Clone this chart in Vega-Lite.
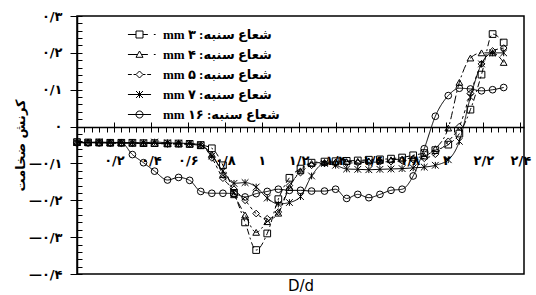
{
"$schema":"https://vega.github.io/schema/vega-lite/v6.json",
"width":447,"height":258,
"autosize":{"type":"none"},
"padding":{"left":77,"top":16,"right":12,"bottom":21},
"background":"white",
"data":{"values":[
{"s":"3","x":0,"y":-0.042},{"s":"3","x":0.06,"y":-0.043},{"s":"3","x":0.12,"y":-0.043},{"s":"3","x":0.18,"y":-0.044},{"s":"3","x":0.24,"y":-0.044},{"s":"3","x":0.30,"y":-0.044},{"s":"3","x":0.36,"y":-0.045},{"s":"3","x":0.42,"y":-0.045},{"s":"3","x":0.49,"y":-0.046},{"s":"3","x":0.55,"y":-0.046},{"s":"3","x":0.61,"y":-0.047},{"s":"3","x":0.67,"y":-0.05},{"s":"3","x":0.73,"y":-0.059},{"s":"3","x":0.79,"y":-0.105},{"s":"3","x":0.85,"y":-0.18},{"s":"3","x":0.91,"y":-0.26},{"s":"3","x":0.97,"y":-0.335},{"s":"3","x":1.03,"y":-0.29},{"s":"3","x":1.09,"y":-0.197},{"s":"3","x":1.15,"y":-0.139},{"s":"3","x":1.21,"y":-0.114},{"s":"3","x":1.27,"y":-0.098},{"s":"3","x":1.34,"y":-0.095},{"s":"3","x":1.40,"y":-0.094},{"s":"3","x":1.46,"y":-0.093},{"s":"3","x":1.52,"y":-0.092},{"s":"3","x":1.58,"y":-0.09},{"s":"3","x":1.64,"y":-0.089},{"s":"3","x":1.70,"y":-0.087},{"s":"3","x":1.76,"y":-0.084},{"s":"3","x":1.82,"y":-0.078},{"s":"3","x":1.88,"y":-0.072},{"s":"3","x":1.94,"y":-0.064},{"s":"3","x":2.01,"y":-0.049},{"s":"3","x":2.07,"y":-0.019},{"s":"3","x":2.13,"y":0.046},{"s":"3","x":2.19,"y":0.141},{"s":"3","x":2.25,"y":0.251},{"s":"3","x":2.31,"y":0.228},
{"s":"4","x":0,"y":-0.043},{"s":"4","x":0.06,"y":-0.043},{"s":"4","x":0.12,"y":-0.044},{"s":"4","x":0.18,"y":-0.044},{"s":"4","x":0.24,"y":-0.044},{"s":"4","x":0.30,"y":-0.045},{"s":"4","x":0.36,"y":-0.045},{"s":"4","x":0.42,"y":-0.046},{"s":"4","x":0.49,"y":-0.046},{"s":"4","x":0.55,"y":-0.047},{"s":"4","x":0.61,"y":-0.048},{"s":"4","x":0.67,"y":-0.052},{"s":"4","x":0.73,"y":-0.075},{"s":"4","x":0.79,"y":-0.13},{"s":"4","x":0.85,"y":-0.185},{"s":"4","x":0.91,"y":-0.24},{"s":"4","x":0.97,"y":-0.287},{"s":"4","x":1.03,"y":-0.258},{"s":"4","x":1.09,"y":-0.235},{"s":"4","x":1.15,"y":-0.165},{"s":"4","x":1.21,"y":-0.12},{"s":"4","x":1.27,"y":-0.1},{"s":"4","x":1.34,"y":-0.097},{"s":"4","x":1.40,"y":-0.096},{"s":"4","x":1.46,"y":-0.095},{"s":"4","x":1.52,"y":-0.094},{"s":"4","x":1.58,"y":-0.093},{"s":"4","x":1.64,"y":-0.092},{"s":"4","x":1.70,"y":-0.09},{"s":"4","x":1.76,"y":-0.088},{"s":"4","x":1.82,"y":-0.085},{"s":"4","x":1.88,"y":-0.08},{"s":"4","x":1.94,"y":-0.06},{"s":"4","x":2.01,"y":-0.004},{"s":"4","x":2.07,"y":0.12},{"s":"4","x":2.13,"y":0.186},{"s":"4","x":2.19,"y":0.2},{"s":"4","x":2.25,"y":0.2},{"s":"4","x":2.31,"y":0.174},
{"s":"5","x":0,"y":-0.044},{"s":"5","x":0.06,"y":-0.044},{"s":"5","x":0.12,"y":-0.044},{"s":"5","x":0.18,"y":-0.045},{"s":"5","x":0.24,"y":-0.045},{"s":"5","x":0.30,"y":-0.045},{"s":"5","x":0.36,"y":-0.046},{"s":"5","x":0.42,"y":-0.046},{"s":"5","x":0.49,"y":-0.047},{"s":"5","x":0.55,"y":-0.047},{"s":"5","x":0.61,"y":-0.048},{"s":"5","x":0.67,"y":-0.05},{"s":"5","x":0.73,"y":-0.085},{"s":"5","x":0.79,"y":-0.14},{"s":"5","x":0.85,"y":-0.17},{"s":"5","x":0.91,"y":-0.2},{"s":"5","x":0.97,"y":-0.236},{"s":"5","x":1.03,"y":-0.25},{"s":"5","x":1.09,"y":-0.232},{"s":"5","x":1.15,"y":-0.16},{"s":"5","x":1.21,"y":-0.125},{"s":"5","x":1.27,"y":-0.105},{"s":"5","x":1.34,"y":-0.1},{"s":"5","x":1.40,"y":-0.099},{"s":"5","x":1.46,"y":-0.099},{"s":"5","x":1.52,"y":-0.098},{"s":"5","x":1.58,"y":-0.097},{"s":"5","x":1.64,"y":-0.096},{"s":"5","x":1.70,"y":-0.095},{"s":"5","x":1.76,"y":-0.093},{"s":"5","x":1.82,"y":-0.09},{"s":"5","x":1.88,"y":-0.086},{"s":"5","x":1.94,"y":-0.075},{"s":"5","x":2.01,"y":-0.04},{"s":"5","x":2.07,"y":0.0},{"s":"5","x":2.13,"y":0.09},{"s":"5","x":2.19,"y":0.17},{"s":"5","x":2.25,"y":0.205},{"s":"5","x":2.31,"y":0.213},
{"s":"7","x":0,"y":-0.043},{"s":"7","x":0.06,"y":-0.043},{"s":"7","x":0.12,"y":-0.042},{"s":"7","x":0.18,"y":-0.043},{"s":"7","x":0.24,"y":-0.043},{"s":"7","x":0.30,"y":-0.044},{"s":"7","x":0.36,"y":-0.044},{"s":"7","x":0.42,"y":-0.042},{"s":"7","x":0.49,"y":-0.044},{"s":"7","x":0.55,"y":-0.045},{"s":"7","x":0.61,"y":-0.046},{"s":"7","x":0.67,"y":-0.05},{"s":"7","x":0.73,"y":-0.08},{"s":"7","x":0.79,"y":-0.12},{"s":"7","x":0.85,"y":-0.154},{"s":"7","x":0.91,"y":-0.152},{"s":"7","x":0.97,"y":-0.164},{"s":"7","x":1.03,"y":-0.194},{"s":"7","x":1.09,"y":-0.21},{"s":"7","x":1.15,"y":-0.206},{"s":"7","x":1.21,"y":-0.19},{"s":"7","x":1.27,"y":-0.134},{"s":"7","x":1.34,"y":-0.1},{"s":"7","x":1.40,"y":-0.105},{"s":"7","x":1.46,"y":-0.115},{"s":"7","x":1.52,"y":-0.116},{"s":"7","x":1.58,"y":-0.117},{"s":"7","x":1.64,"y":-0.116},{"s":"7","x":1.70,"y":-0.115},{"s":"7","x":1.76,"y":-0.114},{"s":"7","x":1.82,"y":-0.112},{"s":"7","x":1.88,"y":-0.11},{"s":"7","x":1.94,"y":-0.105},{"s":"7","x":2.01,"y":-0.09},{"s":"7","x":2.07,"y":-0.04},{"s":"7","x":2.13,"y":0.08},{"s":"7","x":2.19,"y":0.17},{"s":"7","x":2.25,"y":0.2},{"s":"7","x":2.31,"y":0.2},
{"s":"16","x":0,"y":-0.044},{"s":"16","x":0.06,"y":-0.044},{"s":"16","x":0.12,"y":-0.044},{"s":"16","x":0.18,"y":-0.044},{"s":"16","x":0.24,"y":-0.044},{"s":"16","x":0.30,"y":-0.076},{"s":"16","x":0.36,"y":-0.098},{"s":"16","x":0.42,"y":-0.121},{"s":"16","x":0.49,"y":-0.145},{"s":"16","x":0.55,"y":-0.138},{"s":"16","x":0.61,"y":-0.146},{"s":"16","x":0.67,"y":-0.176},{"s":"16","x":0.73,"y":-0.181},{"s":"16","x":0.79,"y":-0.181},{"s":"16","x":0.85,"y":-0.182},{"s":"16","x":0.91,"y":-0.191},{"s":"16","x":0.97,"y":-0.182},{"s":"16","x":1.03,"y":-0.176},{"s":"16","x":1.09,"y":-0.17},{"s":"16","x":1.15,"y":-0.173},{"s":"16","x":1.21,"y":-0.173},{"s":"16","x":1.27,"y":-0.175},{"s":"16","x":1.34,"y":-0.175},{"s":"16","x":1.40,"y":-0.17},{"s":"16","x":1.46,"y":-0.195},{"s":"16","x":1.52,"y":-0.184},{"s":"16","x":1.58,"y":-0.193},{"s":"16","x":1.64,"y":-0.184},{"s":"16","x":1.70,"y":-0.173},{"s":"16","x":1.76,"y":-0.17},{"s":"16","x":1.82,"y":-0.134},{"s":"16","x":1.88,"y":-0.06},{"s":"16","x":1.94,"y":0.028},{"s":"16","x":2.01,"y":0.084},{"s":"16","x":2.07,"y":0.104},{"s":"16","x":2.13,"y":0.102},{"s":"16","x":2.19,"y":0.097},{"s":"16","x":2.25,"y":0.1},{"s":"16","x":2.31,"y":0.106}
]},
"resolve":{"scale":{"shape":"independent"},"axis":{"x":"independent","y":"independent"}},
"layer":[
{
"mark":{"type":"line","interpolate":"monotone","strokeWidth":1,"color":"black"},
"encoding":{
"x":{"field":"x","type":"quantitative","scale":{"domain":[0,2.42],"nice":false,"zero":false},
"axis":{"orient":"bottom","offset":-147,"values":[0.04,0.08,0.12,0.16,0.2,0.24,0.28,0.32,0.36,0.4,0.44,0.48,0.52,0.56,0.6,0.64,0.68,0.72,0.76,0.8,0.84,0.88,0.92,0.96,1,1.04,1.08,1.12,1.16,1.2,1.24,1.28,1.32,1.36,1.4,1.44,1.48,1.52,1.56,1.6,1.64,1.68,1.72,1.76,1.8,1.84,1.88,1.92,1.96,2,2.04,2.08,2.12,2.16,2.2,2.24,2.28,2.32,2.36,2.4],
"tickSize":5,"labelPadding":22,"labelFontSize":13,"labelOverlap":false,"labelFlush":false,"labelBound":false,"title":null,
"labelExpr":"abs(datum.value*5 - round(datum.value*5)) > 0.01 ? '' : replace(replace(replace(replace(replace(replace(replace(replace(replace(toString(round(datum.value*100)/100),'.','/'),regexp('0','g'),'۰'),regexp('1','g'),'۱'),regexp('2','g'),'۲'),regexp('3','g'),'۳'),regexp('4','g'),'۴'),regexp('6','g'),'۶'),regexp('8','g'),'۸'),'-','−')"}},
"y":{"field":"y","type":"quantitative","scale":{"domain":[-0.4,0.3],"nice":false,"zero":false},
"axis":{"orient":"left","values":[-0.4,-0.3,-0.2,-0.1,0,0.1,0.2,0.3],"tickSize":7,"labelPadding":8,"labelFontSize":13,"labelOverlap":false,
"title":"کرنش ضخامت","titleFont":"DejaVu Sans","titleFontSize":13,"titleFontWeight":"bold","titlePadding":1,
"labelExpr":"replace(replace(replace(replace(replace(replace(replace(replace(replace(toString(round(datum.value*100)/100),'.','/'),regexp('0','g'),'۰'),regexp('1','g'),'۱'),regexp('2','g'),'۲'),regexp('3','g'),'۳'),regexp('4','g'),'۴'),regexp('6','g'),'۶'),regexp('8','g'),'۸'),'-','—')"}},
"strokeDash":{"field":"s","type":"nominal","scale":{"domain":["3","4","5","7","16"],"range":[[6,3,2,3],[8,3,2,3],[3,3],[1,0],[1,0]]},"legend":null}
}
},
{
"mark":{"type":"point","filled":false,"strokeWidth":1,"color":"black","size":45,"opacity":1},
"encoding":{
"x":{"field":"x","type":"quantitative","axis":{"orient":"bottom","domain":false,"ticks":false,"labels":false,"title":"D/d","titleFont":"DejaVu Sans","titleFontSize":15,"titleFontWeight":"normal","titlePadding":4}},
"y":{"field":"y","type":"quantitative","axis":{"orient":"left","values":[-0.4,-0.38,-0.36,-0.34,-0.32,-0.3,-0.28,-0.26,-0.24,-0.22,-0.2,-0.18,-0.16,-0.14,-0.12,-0.1,-0.08,-0.06,-0.04,-0.02,0,0.02,0.04,0.06,0.08,0.1,0.12,0.14,0.16,0.18,0.2,0.22,0.24,0.26,0.28,0.3],"tickSize":-5,"labels":false,"domain":false,"title":null}},
"shape":{"field":"s","type":"nominal","scale":{"domain":["3","4","5","7","16"],"range":["square","triangle-up","diamond","M-1,-1L1,1M-1,1L1,-1M0,-1V1","circle"]},"legend":null}
}
},
{
"transform":[{"filter":"false"}],
"mark":{"type":"point","filled":false,"strokeWidth":1,"color":"black","size":49,"opacity":1},
"encoding":{
"x":{"field":"x","type":"quantitative","axis":{"orient":"bottom","offset":-147,"values":[0.2,0.4,0.6,0.8,1,1.2,1.4,1.6,1.8,2,2.2,2.4],"tickSize":-5,"labels":false,"domain":false,"title":null}},
"y":{"field":"y","type":"quantitative","axis":null},
"shape":{"field":"s","type":"nominal","scale":{"domain":["3","4","5","7","16"],"range":["M-3.3,0H-1M-1,-1H1V1H-1ZM1,0H2.4M4.1,0H4.6","M-3.3,0H-0.6M0,-1L1,0.8H-1ZM0.6,0H2.4M4.1,0H4.6","M-3.3,0H-2.2M-1.7,0H-1M0,-1L1,0L0,1L-1,0ZM1,0H1.7M2.2,0H3.3","M-3.3,0H3.3M-1,-1L1,1M-1,1L1,-1M0,-1V1","M-3.3,0H3.3M1,0A1,1,0,1,1,-1,0A1,1,0,1,1,1,0Z"]},
"legend":{"orient":"none","legendX":56,"legendY":12,"title":null,"padding":0,"symbolSize":49,"symbolStrokeWidth":1,"symbolStrokeColor":"black","symbolFillColor":"transparent","labelFont":"Liberation Serif, DejaVu Sans","labelFontSize":13,"labelFontWeight":"bold","labelColor":"black","labelOffset":17,"rowPadding":6,
"labelExpr":"'mm ' + (datum.label == '16' ? '۱۶' : datum.label == '3' ? '۳' : datum.label == '4' ? '۴' : datum.label == '5' ? '۵' : '۷') + ' :شعاع سنبه'"}}
}
}
],
"config":{
"view":{"stroke":"black","strokeWidth":1.5},
"axis":{"grid":false,"domainColor":"black","tickColor":"black","labelColor":"black","titleColor":"black","domainWidth":1.5,"tickWidth":1,"labelFont":"DejaVu Sans","labelFontWeight":"bold"}
}
}
